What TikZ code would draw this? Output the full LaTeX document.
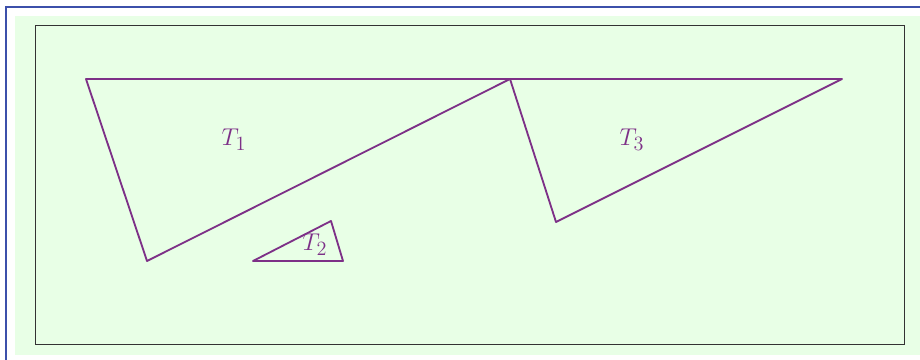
\documentclass[tikz,border=0pt]{standalone}
\usepackage{amsmath,amssymb}
\usetikzlibrary{positioning}
\definecolor{triline}{RGB}{125,48,135}
\definecolor{paleGreen}{RGB}{232,255,230}
\definecolor{frameBlue}{RGB}{60,80,170}

\begin{document}
\begin{tikzpicture}[
  x=0.025cm,y=-0.025cm,
  tri/.style={draw=triline,line width=1.3pt,line join=round},
  lbl/.style={text=triline,font=\fontsize{19}{22}\selectfont,inner sep=0pt}
]
  \useasboundingbox (0,0) rectangle (920,360);
  \fill[paleGreen] (15,16) rectangle (920,355);
  \draw[frameBlue,line width=1.1pt] (6,360)--(6,7)--(920,7);
  \draw[black!80,line width=0.7pt] (35,25) rectangle (904,344);

  % vertices
  \coordinate (a1) at (86,79);
  \coordinate (b1) at (510,79);
  \coordinate (c1) at (147,261);
  \coordinate (a2) at (253,261);
  \coordinate (b2) at (331,221);
  \coordinate (c2) at (343,261);
  \coordinate (b3) at (842,79);
  \coordinate (c3) at (556,222);

  \draw[tri] (a1)--(b1)--(c1)--cycle;
  \draw[tri] (a2)--(b2)--(c2)--cycle;
  \draw[tri] (b1)--(b3)--(c3)--cycle;

  \node[lbl] (t1) at (234,140) {$T_1$};
  \node[lbl] (t2) at (315,245) {$T_2$};
  \node[lbl] (t3) at (632,140) {$T_3$};
\end{tikzpicture}
\end{document}
